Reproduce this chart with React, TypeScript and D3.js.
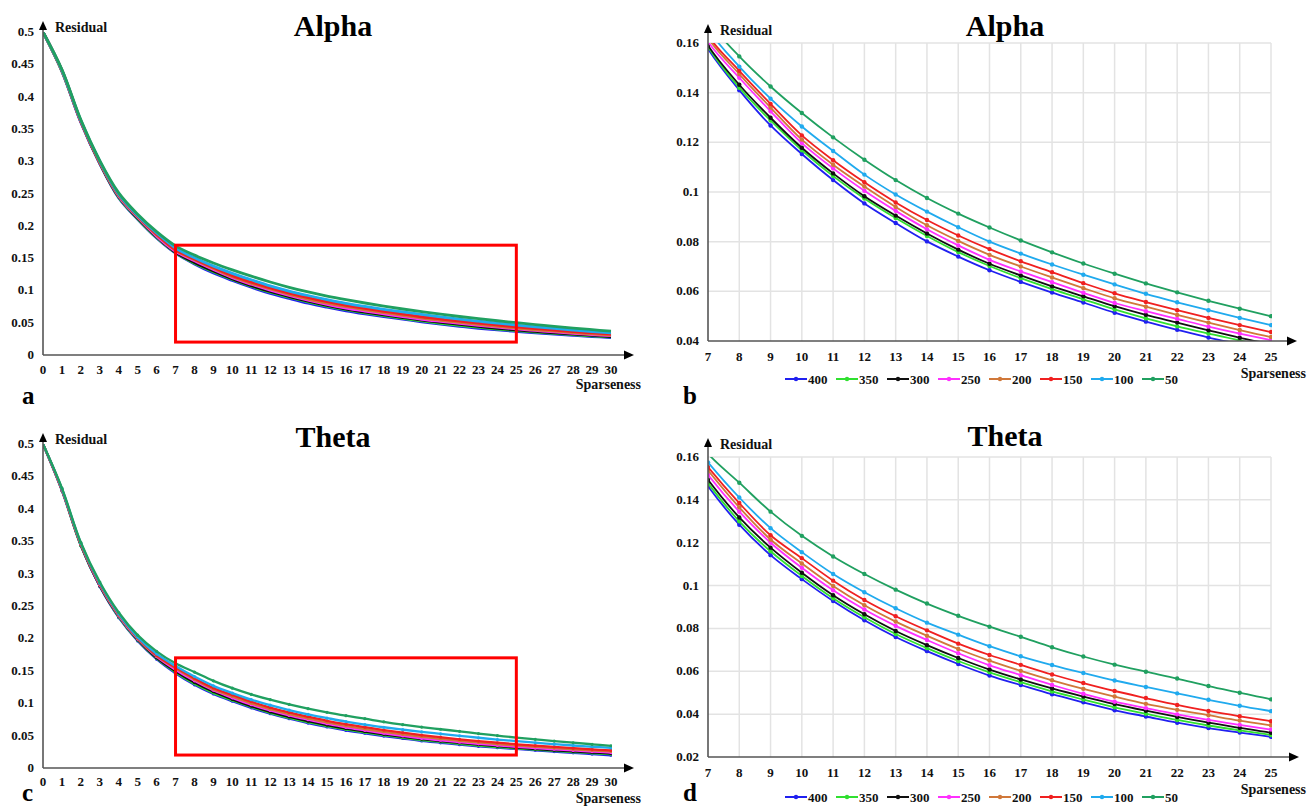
import * as d3 from "d3";

// sparseness values (x)
const xValues = [0, 1, 2, 3, 4, 5, 6, 7, 8, 9, 10, 11, 12, 13, 14, 15, 16, 17, 18, 19, 20, 21, 22, 23, 24, 25, 26, 27, 28, 29, 30];

const seriesNames = ["400", "350", "300", "250", "200", "150", "100", "50"];
const seriesColors = ["#2020f0", "#30e030", "#101010", "#ff30ff", "#d0783a", "#f02020", "#20aaee", "#20a060"];

// Alpha residuals, one array per series (x = 0..30)
const alpha400 = [0.5, 0.439, 0.36, 0.296, 0.243, 0.21, 0.181, 0.1576, 0.141, 0.1268, 0.1153, 0.1048, 0.0954, 0.0875, 0.0801, 0.074, 0.0685, 0.0638, 0.0595, 0.0555, 0.0514, 0.0478, 0.0445, 0.0414, 0.0388, 0.0365, 0.0343, 0.0323, 0.0304, 0.0286, 0.027];
const alpha350 = [0.5, 0.439, 0.361, 0.297, 0.244, 0.211, 0.182, 0.1585, 0.142, 0.1288, 0.1168, 0.1064, 0.0974, 0.0895, 0.0823, 0.0758, 0.0702, 0.0653, 0.0609, 0.0568, 0.0527, 0.0491, 0.0459, 0.043, 0.0402, 0.0377, 0.0355, 0.0334, 0.0314, 0.0296, 0.0279];
const alpha300 = [0.5, 0.44, 0.361, 0.297, 0.245, 0.212, 0.183, 0.159, 0.1432, 0.1299, 0.1178, 0.1075, 0.0983, 0.0905, 0.0833, 0.0768, 0.0711, 0.0664, 0.062, 0.058, 0.054, 0.0505, 0.0474, 0.0443, 0.0413, 0.0388, 0.0365, 0.0343, 0.0323, 0.0304, 0.0286];
const alpha250 = [0.5, 0.44, 0.361, 0.298, 0.246, 0.213, 0.184, 0.1605, 0.146, 0.1325, 0.1197, 0.1095, 0.1005, 0.0924, 0.085, 0.0785, 0.0727, 0.068, 0.0637, 0.0594, 0.0553, 0.052, 0.0489, 0.0458, 0.043, 0.0404, 0.038, 0.0357, 0.0336, 0.0317, 0.0299];
const alpha200 = [0.5, 0.44, 0.362, 0.298, 0.247, 0.214, 0.186, 0.162, 0.1475, 0.134, 0.1211, 0.111, 0.1022, 0.094, 0.0866, 0.0803, 0.0747, 0.07, 0.0656, 0.0613, 0.0572, 0.0538, 0.0505, 0.0474, 0.0444, 0.0416, 0.0391, 0.0368, 0.0346, 0.0326, 0.0307];
const alpha150 = [0.5, 0.441, 0.362, 0.299, 0.248, 0.215, 0.187, 0.163, 0.1488, 0.1355, 0.1228, 0.1128, 0.1039, 0.0958, 0.0887, 0.0825, 0.077, 0.0721, 0.0677, 0.0633, 0.0592, 0.0557, 0.0524, 0.0493, 0.0464, 0.0436, 0.041, 0.0386, 0.0363, 0.0342, 0.0322];
const alpha100 = [0.5, 0.441, 0.363, 0.3, 0.249, 0.216, 0.189, 0.1655, 0.1505, 0.1376, 0.1264, 0.1165, 0.107, 0.099, 0.0921, 0.0858, 0.08, 0.0752, 0.0708, 0.0667, 0.0628, 0.059, 0.0556, 0.0524, 0.0493, 0.0464, 0.0437, 0.0411, 0.0387, 0.0364, 0.0343];
const alpha50 = [0.5, 0.442, 0.364, 0.301, 0.251, 0.218, 0.191, 0.169, 0.1546, 0.1425, 0.1318, 0.122, 0.113, 0.1048, 0.0976, 0.0913, 0.0857, 0.0805, 0.0757, 0.0712, 0.0671, 0.0632, 0.0596, 0.0562, 0.053, 0.05, 0.0471, 0.0443, 0.0417, 0.0392, 0.0368];

// Theta residuals
const theta400 = [0.5, 0.428, 0.343, 0.28, 0.232, 0.196, 0.168, 0.1463, 0.1284, 0.1142, 0.103, 0.0928, 0.0838, 0.076, 0.0694, 0.0634, 0.058, 0.0536, 0.0493, 0.0455, 0.0418, 0.0389, 0.036, 0.0335, 0.0314, 0.0294, 0.0274, 0.0254, 0.0234, 0.0215, 0.0197];
const theta350 = [0.5, 0.428, 0.343, 0.281, 0.233, 0.197, 0.169, 0.1478, 0.13, 0.116, 0.1045, 0.0941, 0.0852, 0.0774, 0.0708, 0.0648, 0.0595, 0.0549, 0.0506, 0.0468, 0.0432, 0.0402, 0.0373, 0.0347, 0.0324, 0.0303, 0.0284, 0.0265, 0.0247, 0.023, 0.0214];
const theta300 = [0.5, 0.429, 0.344, 0.281, 0.234, 0.198, 0.17, 0.1494, 0.1318, 0.1177, 0.106, 0.0955, 0.0866, 0.0788, 0.0722, 0.0662, 0.0608, 0.0562, 0.052, 0.0482, 0.0447, 0.0416, 0.0387, 0.036, 0.0336, 0.0313, 0.0293, 0.0274, 0.0256, 0.0239, 0.0223];
const theta250 = [0.5, 0.429, 0.345, 0.282, 0.235, 0.199, 0.172, 0.1517, 0.1345, 0.12, 0.1083, 0.0978, 0.0888, 0.0812, 0.0746, 0.0684, 0.0628, 0.0582, 0.0536, 0.0495, 0.0458, 0.0428, 0.0399, 0.0373, 0.035, 0.0328, 0.0308, 0.0289, 0.0271, 0.0254, 0.0238];
const theta200 = [0.5, 0.43, 0.345, 0.283, 0.236, 0.2, 0.173, 0.1538, 0.1365, 0.1215, 0.1103, 0.0998, 0.0908, 0.0832, 0.0766, 0.0704, 0.065, 0.0602, 0.0558, 0.0518, 0.0482, 0.0448, 0.042, 0.0395, 0.037, 0.0348, 0.0327, 0.0307, 0.0289, 0.0271, 0.0255];
const theta150 = [0.5, 0.43, 0.346, 0.284, 0.237, 0.201, 0.174, 0.1553, 0.1385, 0.1235, 0.1128, 0.1023, 0.0933, 0.0857, 0.0791, 0.0729, 0.0676, 0.063, 0.0585, 0.0545, 0.0508, 0.0475, 0.0443, 0.0415, 0.039, 0.0367, 0.0345, 0.0325, 0.0306, 0.0288, 0.0271];
const theta100 = [0.5, 0.431, 0.347, 0.285, 0.238, 0.202, 0.176, 0.1575, 0.1411, 0.1268, 0.1156, 0.1054, 0.0969, 0.0894, 0.0827, 0.0771, 0.0717, 0.067, 0.0629, 0.0592, 0.0557, 0.0527, 0.0497, 0.0467, 0.0439, 0.0414, 0.039, 0.0368, 0.0347, 0.0328, 0.031];
const theta50 = [0.5, 0.432, 0.348, 0.287, 0.24, 0.205, 0.18, 0.1615, 0.148, 0.1345, 0.1232, 0.1136, 0.1054, 0.0981, 0.0916, 0.0859, 0.0808, 0.0761, 0.0712, 0.0669, 0.0631, 0.0598, 0.0566, 0.0531, 0.05, 0.0469, 0.0442, 0.0415, 0.039, 0.0366, 0.0343];

const alphaSeries = [alpha400, alpha350, alpha300, alpha250, alpha200, alpha150, alpha100, alpha50];
const thetaSeries = [theta400, theta350, theta300, theta250, theta200, theta150, theta100, theta50];

// tick values / labels
const fullYTicks = [0, 0.05, 0.1, 0.15, 0.2, 0.25, 0.3, 0.35, 0.4, 0.45, 0.5];
const fullYLabels = ["0", "0.05", "0.1", "0.15", "0.2", "0.25", "0.3", "0.35", "0.4", "0.45", "0.5"];
const fullXTicks = xValues;
const zoomXTicks = [7, 8, 9, 10, 11, 12, 13, 14, 15, 16, 17, 18, 19, 20, 21, 22, 23, 24, 25];
const zoomYTicksB = [0.04, 0.06, 0.08, 0.1, 0.12, 0.14, 0.16];
const zoomYLabelsB = ["0.04", "0.06", "0.08", "0.1", "0.12", "0.14", "0.16"];
const zoomYTicksD = [0.02, 0.04, 0.06, 0.08, 0.1, 0.12, 0.14, 0.16];
const zoomYLabelsD = ["0.02", "0.04", "0.06", "0.08", "0.1", "0.12", "0.14", "0.16"];
// zoom window drawn on the full plots
const zoomRectX = [7, 25];
const zoomRectY = [0.02, 0.17];

const FONT = "'Liberation Serif', 'Times New Roman', serif";

type Box = { l: number; r: number; t: number; b: number };

type PanelProps = {
  id: string;
  series: number[][];
  xDomain: [number, number];
  yDomain: [number, number];
  box: Box;
  xTicks: number[];
  yTicks: number[];
  yLabels: string[];
  grid: boolean;
  markerR: number;
  lineW: number;
  title: string;
  titleX: number;
  titleY: number;
  arrowTop: number;
  arrowRight: number;
  sparseX: number;
  sparseY: number;
  letter: string;
  letterX: number;
  letterY: number;
  xLabelY: number;
  showRect: boolean;
  legendX?: number;
  legendY?: number;
};

function Panel(p: PanelProps) {
  const x = d3.scaleLinear().domain(p.xDomain).range([p.box.l, p.box.r]);
  const y = d3.scaleLinear().domain(p.yDomain).range([p.box.b, p.box.t]);
  // only the points that matter for this window
  const idx = xValues.map((_, i) => i).filter((i) => xValues[i] >= p.xDomain[0] - 1 && xValues[i] <= p.xDomain[1] + 1);
  const axisColor = "#555";
  return (
    <g>
      <defs>
        <clipPath id={"clip-" + p.id}>
          <rect x={p.box.l} y={p.box.t} width={p.box.r - p.box.l + 1} height={p.box.b - p.box.t} />
        </clipPath>
      </defs>
      {p.grid && (
        <g stroke="#e3e3e3" strokeWidth={1.5}>
          {p.xTicks.slice(1).map((t) => (
            <line key={"gx" + t} x1={x(t)} x2={x(t)} y1={p.box.t} y2={p.box.b} />
          ))}
          {p.yTicks.slice(1).map((t) => (
            <line key={"gy" + t} x1={p.box.l} x2={p.box.r} y1={y(t)} y2={y(t)} />
          ))}
        </g>
      )}
      <g clipPath={`url(#clip-${p.id})`}>
        {p.series.map((s, k) => {
          const path = d3
            .line<number>()
            .x((i) => x(xValues[i]))
            .y((i) => y(s[i]))
            .curve(d3.curveCatmullRom.alpha(0.5))(idx);
          return (
            <g key={k}>
              <path d={path || ""} fill="none" stroke={seriesColors[k]} strokeWidth={p.lineW} />
              {p.markerR > 0 &&
                idx.map((i) => <circle key={i} cx={x(xValues[i])} cy={y(s[i])} r={p.markerR} fill={seriesColors[k]} />)}
            </g>
          );
        })}
      </g>
      {p.showRect && (
        <rect
          x={x(zoomRectX[0])}
          y={y(zoomRectY[1])}
          width={x(zoomRectX[1]) - x(zoomRectX[0])}
          height={y(zoomRectY[0]) - y(zoomRectY[1])}
          fill="none"
          stroke="#ff0000"
          strokeWidth={3}
        />
      )}
      {/* axes with arrow heads */}
      <line x1={p.box.l} x2={p.box.l} y1={p.box.b} y2={p.arrowTop + 6} stroke={axisColor} strokeWidth={1.6} />
      <polygon points={`${p.box.l},${p.arrowTop} ${p.box.l - 4},${p.arrowTop + 9} ${p.box.l + 4},${p.arrowTop + 9}`} fill="#000" />
      <line x1={p.box.l} x2={p.arrowRight - 6} y1={p.box.b} y2={p.box.b} stroke={axisColor} strokeWidth={1.6} />
      <polygon points={`${p.arrowRight},${p.box.b} ${p.arrowRight - 10},${p.box.b - 4.5} ${p.arrowRight - 10},${p.box.b + 4.5}`} fill="#000" />
      <g fontFamily={FONT} fontWeight="bold" fontSize={13} fill="#111">
        {p.yTicks.map((t, i) => (
          <text key={"yl" + t} x={p.box.l - 9} y={y(t) + 4} textAnchor="end">
            {p.yLabels[i]}
          </text>
        ))}
        {p.xTicks.map((t) => (
          <text key={"xl" + t} x={x(t)} y={p.xLabelY} textAnchor="middle">
            {t}
          </text>
        ))}
        <text x={p.box.l + 12} y={p.arrowTop + 11} fontSize={14}>
          Residual
        </text>
        <text x={p.sparseX} y={p.sparseY} fontSize={14} textAnchor="end">
          Sparseness
        </text>
      </g>
      <text x={p.titleX} y={p.titleY} fontFamily={FONT} fontWeight="bold" fontSize={30} textAnchor="middle" fill="#000">
        {p.title}
      </text>
      <text x={p.letterX} y={p.letterY} fontFamily={FONT} fontWeight="bold" fontSize={25} fill="#000">
        {p.letter}
      </text>
      {p.legendX !== undefined && p.legendY !== undefined && (
        <g fontFamily={FONT} fontWeight="bold" fontSize={13}>
          {seriesNames.map((n, k) => {
            const lx = p.legendX! + k * 51;
            return (
              <g key={n}>
                <line x1={lx} x2={lx + 22} y1={p.legendY} y2={p.legendY} stroke={seriesColors[k]} strokeWidth={2} />
                <circle cx={lx + 11} cy={p.legendY} r={2.2} fill={seriesColors[k]} />
                <text x={lx + 23} y={p.legendY! + 4.5} fill="#111">
                  {n}
                </text>
              </g>
            );
          })}
        </g>
      )}
    </g>
  );
}

export default function App() {
  return (
    <svg width={1307} height={808} style={{ position: "absolute", left: 0, top: 0, background: "#fff" }}>
      <rect width={1307} height={808} fill="#fff" />
      <Panel
        id="a"
        series={alphaSeries}
        xDomain={[0, 30]}
        yDomain={[0, 0.5]}
        box={{ l: 43, r: 611, t: 32, b: 355 }}
        xTicks={fullXTicks}
        yTicks={fullYTicks}
        yLabels={fullYLabels}
        grid={false}
        markerR={0}
        lineW={2.8}
        title="Alpha"
        titleX={333}
        titleY={36}
        arrowTop={21}
        arrowRight={634}
        sparseX={641}
        sparseY={389}
        letter="a"
        letterX={22}
        letterY={404}
        xLabelY={374}
        showRect={true}
      />
      <Panel
        id="b"
        series={alphaSeries}
        xDomain={[7, 25]}
        yDomain={[0.04, 0.16]}
        box={{ l: 708, r: 1271, t: 43, b: 341 }}
        xTicks={zoomXTicks}
        yTicks={zoomYTicksB}
        yLabels={zoomYLabelsB}
        grid={true}
        markerR={2.2}
        lineW={1.8}
        title="Alpha"
        titleX={1005}
        titleY={36}
        arrowTop={24}
        arrowRight={1297}
        sparseX={1306}
        sparseY={378}
        letter="b"
        letterX={683}
        letterY={404}
        xLabelY={361}
        showRect={false}
        legendX={785}
        legendY={379}
      />
      <Panel
        id="c"
        series={thetaSeries}
        xDomain={[0, 30]}
        yDomain={[0, 0.5]}
        box={{ l: 43, r: 611, t: 444, b: 768 }}
        xTicks={fullXTicks}
        yTicks={fullYTicks}
        yLabels={fullYLabels}
        grid={false}
        markerR={1.6}
        lineW={2.3}
        title="Theta"
        titleX={333}
        titleY={447}
        arrowTop={433}
        arrowRight={634}
        sparseX={641}
        sparseY={803}
        letter="c"
        letterX={22}
        letterY={801}
        xLabelY={786}
        showRect={true}
      />
      <Panel
        id="d"
        series={thetaSeries}
        xDomain={[7, 25]}
        yDomain={[0.02, 0.16]}
        box={{ l: 708, r: 1271, t: 457, b: 757 }}
        xTicks={zoomXTicks}
        yTicks={zoomYTicksD}
        yLabels={zoomYLabelsD}
        grid={true}
        markerR={2.2}
        lineW={1.8}
        title="Theta"
        titleX={1005}
        titleY={446}
        arrowTop={438}
        arrowRight={1299}
        sparseX={1306}
        sparseY={794}
        letter="d"
        letterX={683}
        letterY={801}
        xLabelY={777}
        showRect={false}
        legendX={785}
        legendY={797}
      />
    </svg>
  );
}
